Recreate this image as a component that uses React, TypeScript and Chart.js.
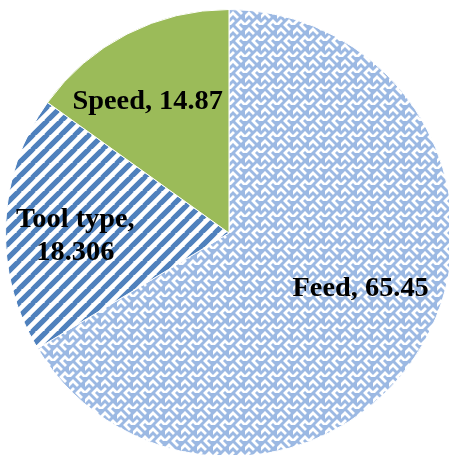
import React, { useEffect, useRef } from "react";
import { Chart, registerables } from "chart.js";

Chart.register(...registerables);

const categories = ["Feed", "Tool type", "Speed"];
const values = [65.45, 18.306, 14.87];
const valueLabels = ["65.45", "18.306", "14.87"];

// Label anchor (centre x, first baseline y) as fractions of the pie radius from its centre
const labelOffset = [
  [0.589, 0.281],
  [-0.6875, -0.027],
  [-0.364, -0.554],
];
const labelLines = [
  [`${categories[0]}, ${valueLabels[0]}`],
  [`${categories[1]},`, valueLabels[1]],
  [`${categories[2]}, ${valueLabels[2]}`],
];

function makeWeave(ctx: CanvasRenderingContext2D): CanvasPattern | string {
  const s = 16;
  const t = document.createElement("canvas");
  t.width = s;
  t.height = s;
  const g = t.getContext("2d");
  if (!g) return "#b3c8e8";
  g.fillStyle = "#9cb9e3";
  g.fillRect(0, 0, s, s);
  g.strokeStyle = "#ffffff";
  g.lineWidth = 2.8;
  g.lineCap = "square";
  const h = s / 2;
  const q = s / 4;
  const segs = [
    [0, h, q, q],
    [q, q, h, h],
    [h, s, h + q, h + q],
    [h + q, h + q, s, s],
    [h, 0, h + q, q],
    [0, s, q, h + q],
  ];
  g.beginPath();
  for (const [x1, y1, x2, y2] of segs) {
    g.moveTo(x1, y1);
    g.lineTo(x2, y2);
  }
  g.stroke();
  return ctx.createPattern(t, "repeat") || "#b3c8e8";
}

function makeStripes(ctx: CanvasRenderingContext2D): CanvasPattern | string {
  const s = 14;
  const t = document.createElement("canvas");
  t.width = s;
  t.height = s;
  const g = t.getContext("2d");
  if (!g) return "#4f81bd";
  g.fillStyle = "#ffffff";
  g.fillRect(0, 0, s, s);
  g.strokeStyle = "#4f81bd";
  g.lineWidth = 5.2;
  g.beginPath();
  for (let k = -1; k <= 1; k++) {
    g.moveTo(k * s - 1, s + 1);
    g.lineTo(k * s + s + 1, -1);
  }
  g.stroke();
  return ctx.createPattern(t, "repeat") || "#4f81bd";
}

const sliceLabels = {
  id: "sliceLabels",
  afterDatasetsDraw(chart: Chart) {
    const ctx = chart.ctx;
    const meta = chart.getDatasetMeta(0);
    const first: any = meta.data[0];
    if (!first) return;
    const c = first.getProps(["x", "y", "outerRadius"], true);
    ctx.save();
    ctx.font = "bold 27px 'Liberation Serif', 'Times New Roman', serif";
    ctx.fillStyle = "#000000";
    ctx.textAlign = "center";
    ctx.textBaseline = "alphabetic";
    const lh = 33;
    labelLines.forEach((lines, i) => {
      const cx = c.x + labelOffset[i][0] * c.outerRadius;
      const cy = c.y + labelOffset[i][1] * c.outerRadius;
      lines.forEach((line, j) => {
        ctx.save();
        ctx.translate(cx, cy + j * lh);
        ctx.scale(1.05, 1);
        ctx.fillText(line, 0, 0);
        ctx.restore();
      });
    });
    ctx.restore();
  },
};

export default function App() {
  const ref = useRef<HTMLCanvasElement>(null);
  useEffect(() => {
    const canvas = ref.current;
    if (!canvas) return;
    const ctx = canvas.getContext("2d");
    if (!ctx) return;
    const chart = new Chart(canvas, {
      type: "pie",
      data: {
        labels: categories,
        datasets: [
          {
            data: values,
            backgroundColor: [makeWeave(ctx), makeStripes(ctx), "#9bbb59"],
            borderColor: "#ffffff",
            borderWidth: 1,
          },
        ],
      },
      options: {
        responsive: false,
        animation: false,
        layout: { padding: 0 },
        plugins: {
          legend: { display: false },
          tooltip: { enabled: false },
        },
      },
      plugins: [sliceLabels],
    });
    return () => chart.destroy();
  }, []);
  return (
    <div
      style={{
        position: "fixed",
        left: 0,
        top: 0,
        width: 449,
        height: 455,
        overflow: "hidden",
        background: "#ffffff",
      }}
    >
      <canvas
        ref={ref}
        width={448}
        height={448}
        style={{ position: "absolute", left: 5, top: 9, width: 448, height: 448 }}
      />
    </div>
  );
}
